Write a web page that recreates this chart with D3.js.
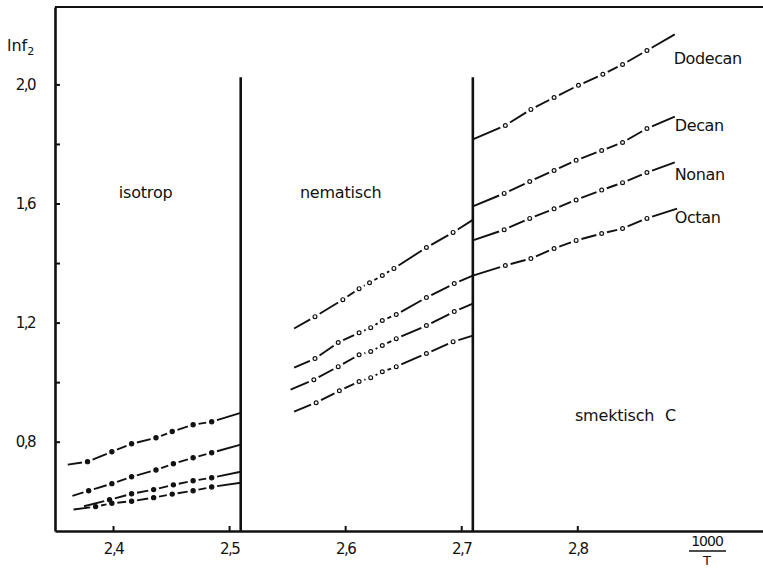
<!DOCTYPE html>
<html>
<head>
<meta charset="utf-8">
<script src="https://cdn.jsdelivr.net/npm/d3@7"></script>
<style>
  body { margin: 0; background: #fff; }
  svg { display: block; font-family: "DejaVu Sans", sans-serif; }
  text { fill: #111; }
</style>
</head>
<body>
<script>
const width = 763;
const height = 568;

// ln f2 against 1000/T, first and last point of each run are the line ends
const dodecanIso = [[2.361,0.723],[2.378,0.733],[2.399,0.766],[2.416,0.793],[2.437,0.813],[2.451,0.834],[2.469,0.857],[2.485,0.867],[2.51,0.897]];
const decanIso   = [[2.365,0.618],[2.379,0.635],[2.399,0.659],[2.416,0.682],[2.437,0.705],[2.452,0.726],[2.469,0.746],[2.485,0.763],[2.51,0.790]];
const nonanIso   = [[2.375,0.583],[2.397,0.605],[2.416,0.625],[2.435,0.639],[2.452,0.655],[2.469,0.669],[2.485,0.679],[2.51,0.699]];
const octanIso   = [[2.366,0.572],[2.385,0.582],[2.399,0.593],[2.416,0.600],[2.435,0.612],[2.451,0.624],[2.469,0.635],[2.485,0.648],[2.51,0.662]];

const dodecanNem = [[2.556,1.180],[2.574,1.220],[2.598,1.277],[2.612,1.314],[2.621,1.334],[2.632,1.358],[2.642,1.382],[2.670,1.452],[2.693,1.503],[2.71,1.545]];
const decanNem   = [[2.556,1.049],[2.574,1.079],[2.594,1.133],[2.612,1.166],[2.622,1.183],[2.632,1.207],[2.644,1.227],[2.670,1.284],[2.694,1.331],[2.71,1.358]];
const nonanNem   = [[2.553,0.975],[2.573,1.008],[2.594,1.052],[2.612,1.092],[2.622,1.103],[2.632,1.123],[2.644,1.146],[2.670,1.190],[2.694,1.237],[2.71,1.264]];
const octanNem   = [[2.556,0.901],[2.575,0.931],[2.595,0.971],[2.612,1.002],[2.622,1.015],[2.632,1.035],[2.644,1.052],[2.670,1.096],[2.693,1.136],[2.71,1.156]];

const dodecanSm  = [[2.71,1.815],[2.738,1.862],[2.760,1.916],[2.780,1.956],[2.801,1.997],[2.822,2.034],[2.839,2.067],[2.860,2.114],[2.884,2.168]];
const decanSm    = [[2.71,1.590],[2.737,1.634],[2.759,1.674],[2.780,1.711],[2.799,1.745],[2.821,1.778],[2.839,1.805],[2.860,1.852],[2.884,1.892]];
const nonanSm    = [[2.71,1.476],[2.737,1.512],[2.759,1.550],[2.780,1.582],[2.799,1.612],[2.821,1.645],[2.839,1.670],[2.860,1.704],[2.884,1.738]];
const octanSm    = [[2.71,1.358],[2.738,1.392],[2.760,1.415],[2.780,1.449],[2.799,1.476],[2.821,1.499],[2.839,1.516],[2.860,1.550],[2.886,1.583]];

const phaseBounds = [2.51, 2.71];
const xTicks = [2.4, 2.5, 2.6, 2.7, 2.8];
const yTicks = [0.8, 1.0, 1.2, 1.4, 1.6, 1.8, 2.0];
const yLabels = [0.8, 1.2, 1.6, 2.0];

const seriesNames = [
  { name: "Dodecan", x: 2.883, y: 2.07 },
  { name: "Decan",   x: 2.884, y: 1.845 },
  { name: "Nonan",   x: 2.884, y: 1.68 },
  { name: "Octan",   x: 2.884, y: 1.535 }
];
const phaseNames = [
  { name: "isotrop",     x: 2.405, y: 1.62 },
  { name: "nematisch",   x: 2.561, y: 1.62 },
  { name: "smektisch C", x: 2.798, y: 0.87 }
];

const runs = [
  { pts: dodecanIso, filled: true }, { pts: decanIso, filled: true },
  { pts: nonanIso, filled: true },   { pts: octanIso, filled: true },
  { pts: dodecanNem, filled: false }, { pts: decanNem, filled: false },
  { pts: nonanNem, filled: false },   { pts: octanNem, filled: false },
  { pts: dodecanSm, filled: false }, { pts: decanSm, filled: false },
  { pts: nonanSm, filled: false },   { pts: octanSm, filled: false }
];

const x = d3.scaleLinear().domain([2.35, 2.96]).range([55, 763]);
const y = d3.scaleLinear().domain([0.5, 2.26]).range([531, 7]);

const svg = d3.select("body").append("svg")
  .attr("width", width)
  .attr("height", height);

const comma = d => d3.format(".1f")(d).replace(".", ",");

// frame top
svg.append("line")
  .attr("x1", x(2.35)).attr("x2", x(2.96))
  .attr("y1", y(2.26)).attr("y2", y(2.26))
  .attr("stroke", "#111").attr("stroke-width", 2);

const yAxis = svg.append("g")
  .attr("transform", `translate(${x(2.35)},0)`)
  .call(d3.axisLeft(y).tickValues(yTicks).tickSize(-5).tickSizeOuter(0).tickPadding(20)
    .tickFormat(d => yLabels.some(v => Math.abs(v - d) < 1e-6) ? comma(d) : ""));

const xAxis = svg.append("g")
  .attr("transform", `translate(0,${y(0.5)})`)
  .call(d3.axisBottom(x).tickValues(xTicks).tickSize(-5).tickSizeOuter(0).tickPadding(12)
    .tickFormat(comma));

[yAxis, xAxis].forEach(g => {
  g.select(".domain").attr("stroke", "#111").attr("stroke-width", 2.6);
  g.selectAll(".tick line").attr("stroke", "#111").attr("stroke-width", 2);
  g.selectAll(".tick text")
    .attr("font-family", "DejaVu Sans, sans-serif")
    .attr("font-size", 15)
    .attr("letter-spacing", -1.5)
    .attr("fill", "#111");
});

// phase boundaries
svg.append("g").selectAll("line")
  .data(phaseBounds)
  .join("line")
  .attr("x1", d => x(d)).attr("x2", d => x(d))
  .attr("y1", y(2.024)).attr("y2", y(0.5))
  .attr("stroke", "#111").attr("stroke-width", 2.6);

// dash-dot runs: a dash between every pair of points, a gap round each marker
const gap = 5.5;
const segs = [];
const marks = [];
runs.forEach(r => {
  const p = r.pts.map(d => [x(d[0]), y(d[1])]);
  for (let i = 0; i < p.length - 1; i++) {
    const [ax, ay] = p[i], [bx, by] = p[i + 1];
    const len = Math.hypot(bx - ax, by - ay);
    const ux = (bx - ax) / len, uy = (by - ay) / len;
    const g0 = i === 0 ? 0 : gap;
    const g1 = i === p.length - 2 ? 0 : gap;
    segs.push([ax + ux * g0, ay + uy * g0, bx - ux * g1, by - uy * g1]);
  }
  p.slice(1, -1).forEach(d => marks.push({ cx: d[0], cy: d[1], filled: r.filled }));
});

svg.append("g").selectAll("line")
  .data(segs)
  .join("line")
  .attr("x1", d => d[0]).attr("y1", d => d[1])
  .attr("x2", d => d[2]).attr("y2", d => d[3])
  .attr("stroke", "#111").attr("stroke-width", 1.9);

svg.append("g").selectAll("circle")
  .data(marks)
  .join("circle")
  .attr("cx", d => d.cx).attr("cy", d => d.cy)
  .attr("r", d => d.filled ? 2.1 : 1.9)
  .attr("fill", d => d.filled ? "#111" : "#fff")
  .attr("stroke", "#111").attr("stroke-width", 1.2);

// series and phase names
svg.append("g").selectAll("text")
  .data(seriesNames)
  .join("text")
  .attr("x", d => x(d.x)).attr("y", d => y(d.y))
  .attr("font-size", 16)
  .attr("letter-spacing", -0.4)
  .text(d => d.name);

svg.append("g").selectAll("text")
  .data(phaseNames)
  .join("text")
  .attr("x", d => x(d.x)).attr("y", d => y(d.y))
  .attr("font-size", 16)
  .attr("letter-spacing", -0.2)
  .attr("word-spacing", 6)
  .text(d => d.name);

// axis titles
const yt = svg.append("text").attr("x", 7).attr("y", 51).attr("font-size", 16);
yt.append("tspan").text("lnf");
yt.append("tspan").attr("font-size", 11).attr("dy", 4).text("2");

svg.append("text")
  .attr("x", 707).attr("y", 546)
  .attr("text-anchor", "middle").attr("font-size", 14).attr("letter-spacing", -1)
  .text("1000");
svg.append("line")
  .attr("x1", 689).attr("x2", 726).attr("y1", 551).attr("y2", 551)
  .attr("stroke", "#111").attr("stroke-width", 1.6);
svg.append("text")
  .attr("x", 707).attr("y", 565)
  .attr("text-anchor", "middle").attr("font-size", 13)
  .text("T");
</script>
</body>
</html>
